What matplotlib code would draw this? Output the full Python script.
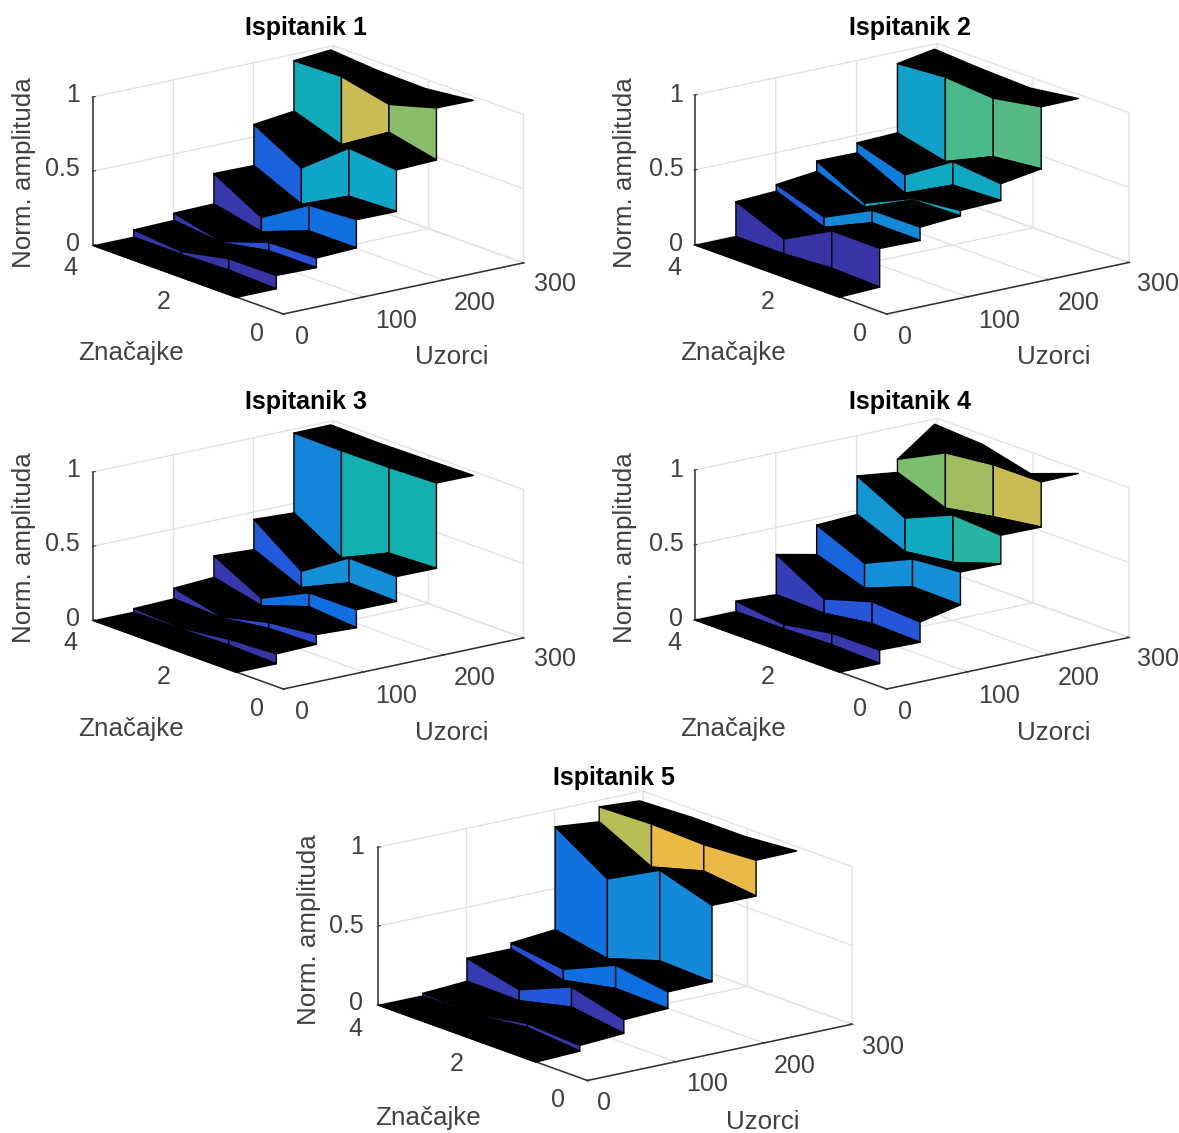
import matplotlib
matplotlib.use("Agg")
import matplotlib.pyplot as plt
from matplotlib.colors import LinearSegmentedColormap
from mpl_toolkits.mplot3d import proj3d
from mpl_toolkits.mplot3d.art3d import Poly3DCollection

W, H = 1179, 1133
plt.rcParams['font.family'] = ['Liberation Sans', 'DejaVu Sans']
plt.rcParams['grid.color'] = '#e2e2e2'
plt.rcParams['grid.linewidth'] = 1.0

# features, far side first
features = [4, 3, 2, 1]
step_samples = [50, 100, 150, 200, 250]
last_sample = 296
x_ticks = [0, 2, 4]
y_ticks = [0, 100, 200, 300]
z_ticks = [0, 0.5, 1]
x_tick_labels = ['0', '2', '4']
y_tick_labels = ['0', '100', '200', '300']
z_tick_labels = ['0', '0.5', '1']
titles = ['Ispitanik 1', 'Ispitanik 2', 'Ispitanik 3', 'Ispitanik 4', 'Ispitanik 5']

# height at the top of each step, one row per step
tops_1 = [[.05, .02, .087, .09], [.105, .03, .14, .15], [.315, .134, .333, .351],
          [.588, .41, .66, .629], [.96, .969, .897, .989]]
tops_2 = [[.233, .10, .27, .268], [.29, .188, .35, .353], [.39, .224, .371, .407],
          [.454, .356, .56, .528], [.926, .951, .926, .984]]
tops_3 = [[.025, .01, .05, .067], [.105, .03, .105, .14], [.266, .096, .248, .25],
          [.454, .22, .425, .416], [.978, .975, .978, .989]]
tops_4 = [[.07, .03, .087, .09], [.324, .143, .24, .22], [.463, .324, .468, .497],
          [.734, .568, .705, .685], [.787, .946, .982, .984]]
tops_5 = [[.017, .006, .065, .046], [.18, .10, .238, .15], [.217, .17, .316, .267],
          [.895, .684, .859, .756], [.962, .973, .962, .983]]

# height at the end of each plateau (first plateau starts at 0)
ends_1 = [[0, 0, .01, 0], [.056, .022, .083, .085], [.11, .038, .159, .161],
          [.311, .166, .336, .349], [.62, .51, .709, .638], [.98, .955, .95, .987]]
ends_2 = [[0, 0, .02, .01], [.246, .12, .266, .264], [.32, .197, .36, .371],
          [.387, .233, .403, .416], [.463, .387, .535, .57], [.969, .95, .94, .987]]
ends_3 = [[0, 0, .01, 0], [.033, .02, .065, .074], [.12, .045, .154, .128],
          [.25, .11, .257, .248], [.44, .253, .40, .414], [.98, .975, .98, .987]]
ends_4 = [[0, 0, .01, 0], [.056, .047, .094, .085], [.266, .157, .282, .277],
          [.476, .344, .387, .494], [.70, .577, .635, .682], [.969, .95, .87, .987]]
ends_5 = [[0, 0, .04, .01], [.034, .03, .11, .063], [.18, .10, .168, .162],
          [.242, .179, .284, .272], [.867, .70, .794, .756], [.945, .96, .96, .987]]

# colour value of the three wall pieces of each step
walls_1 = [[.02, .02, .02], [.03, .1, .1], [.03, .2, .2], [.16, .4, .4], [.45, .83, .72]]
walls_2 = [[.02, .02, .02], [.14, .28, .28], [.22, .42, .42], [.24, .42, .42], [.38, .62, .64]]
walls_3 = [[.02, .02, .02], [.03, .08, .08], [.03, .2, .2], [.14, .3, .3], [.27, .5, .5]]
walls_4 = [[.03, .03, .03], [.05, .12, .12], [.17, .3, .3], [.33, .43, .55], [.7, .76, .83]]
walls_5 = [[.02, .02, .02], [.04, .13, .03], [.1, .2, .2], [.21, .28, .28], [.8, .93, .92]]

all_tops = [tops_1, tops_2, tops_3, tops_4, tops_5]
all_ends = [ends_1, ends_2, ends_3, ends_4, ends_5]
all_walls = [walls_1, walls_2, walls_3, walls_4, walls_5]

# layout in image pixels: left corner, front corner of the box
left_corner = [(93.3, 246), (695, 246), (93.3, 621), (695, 621), (378.3, 1007.3)]
front_corner = [(283.3, 314), (886.7, 314), (283.3, 689), (886.7, 689), (587.5, 1080.5)]
box_z = [0.99, 0.99, 0.99, 0.99, 0.955]
title_pos = [(306, 28), (910, 28), (306, 402), (910, 402), (614, 778)]
xlabel_pos = [(131, 353), (733, 353), (131, 729), (733, 729), (428, 1118)]
ylabel_pos = [(452, 357), (1054, 357), (452, 733), (1054, 733), (763, 1122)]
zlabel_pos = [(24, 173), (625, 173), (24, 548), (625, 548), (309, 930)]

# tick label centres, pixels from the front corner
x_off = [(-26.6, 20), (-119.3, -12), (-212.6, -45.7)]
y_off = [(18.4, 23.3), (112.7, 6.7), (191.7, -10.7), (271.7, -29.7)]
z_off = [(-210.6, -70), (-220.6, -144.7), (-210.3, -219)]
x_off_5 = [(-29.2, 19.5), (-130.8, -16.2), (-232.5, -51.2)]
y_off_5 = [(16.5, 22.8), (119.8, 3.8), (207.5, -14.5), (295.8, -33.2)]
z_off_5 = [(-231.5, -77.2), (-241.5, -154.5), (-230.8, -233.8)]

parula = LinearSegmentedColormap.from_list('parula_like', [
    '#3a2f9a', '#2b4fd8', '#0f6fe0', '#1590d8', '#10a6c8', '#12b0b0',
    '#3cb890', '#7bbd6f', '#b9bd55', '#e8b94a', '#f5b93c'])

TXT = '#404040'
FS = 18
FS_LABEL = 18.7


def corner_px(ax, x, y, z):
    px, py, _ = proj3d.proj_transform(x, y, z, ax.get_proj())
    return ax.transData.transform((px, py))


def fit_box(ax, left, front):
    # move and scale the axes so the box corners land on the image pixels
    for _ in range(3):
        ax.apply_aspect()
        a = corner_px(ax, 4, 0, 0)
        b = corner_px(ax, 0, 0, 0)
        pos = ax.get_position()
        scale = (front[0] - left[0]) / (b[0] - a[0])
        ax.set_position([pos.x0, pos.y0, pos.width * scale, pos.height * scale])
        ax.apply_aspect()
        b = corner_px(ax, 0, 0, 0)
        pos = ax.get_position()
        dx = (front[0] - b[0]) / W
        dy = ((H - front[1]) - b[1]) / H
        ax.set_position([pos.x0 + dx, pos.y0 + dy, pos.width, pos.height])


def draw_stairs(ax, tops, ends, walls):
    # painter's order: far samples first, far features first
    order = 1
    for k in range(5, -1, -1):
        y0 = 0 if k == 0 else step_samples[k - 1]
        y1 = last_sample if k == 5 else step_samples[k]
        start = [0, 0, 0, 0] if k == 0 else tops[k - 1]
        for i in range(3):
            f0, f1 = features[i], features[i + 1]
            # plateau, black because the sample lines are so dense
            quad = [(f0, y0, start[i]), (f1, y0, start[i + 1]),
                    (f1, y1, ends[k][i + 1]), (f0, y1, ends[k][i])]
            tread = Poly3DCollection([quad], facecolors='black', edgecolors='black',
                                     linewidths=1.0, zorder=order)
            ax.add_collection3d(tread)
            order += 1
        if k == 0:
            continue
        for i in range(3):
            f0, f1 = features[i], features[i + 1]
            y = step_samples[k - 1]
            low = ends[k - 1]
            quad = [(f0, y, low[i]), (f1, y, low[i + 1]),
                    (f1, y, start[i + 1]), (f0, y, start[i])]
            wall = Poly3DCollection([quad], facecolors=parula(walls[k - 1][i]),
                                    edgecolors='black', linewidths=1.0, zorder=order)
            ax.add_collection3d(wall)
            order += 1


def put_text(pos, s, **kw):
    fig.text(pos[0] / W, 1 - pos[1] / H, s, ha='center', va='center', **kw)


fig = plt.figure(figsize=(W / 100, H / 100), dpi=100)

for n in range(5):
    ax = fig.add_axes([0.1, 0.1, 0.4, 0.4 * W / H], projection='3d', proj_type='ortho',
                      computed_zorder=False)
    ax.patch.set_alpha(0)
    ax.set_box_aspect((2, 1.94, box_z[n]))
    ax.view_init(elev=16.1, azim=-37.5)
    ax.set_xlim(4, 0, view_margin=0)
    ax.set_ylim(0, 300, view_margin=0)
    ax.set_zlim(0, 1, view_margin=0)

    draw_stairs(ax, all_tops[n], all_ends[n], all_walls[n])

    ax.set_xticks(x_ticks, [''] * 3)
    ax.set_yticks(y_ticks, [''] * 4)
    ax.set_zticks(z_ticks, [''] * 3)
    ax.zaxis.set_ticks_position('lower')
    ax.tick_params(colors=TXT)
    for axis in (ax.xaxis, ax.yaxis, ax.zaxis):
        axis.set_pane_color((1, 1, 1, 1))
        axis.pane.set_edgecolor('none')
        axis.line.set_color('#303030')
        axis.line.set_linewidth(1.1)
        axis._axinfo['tick']['inward_factor'] = 0.05
        axis._axinfo['tick']['outward_factor'] = 0.1

    fit_box(ax, left_corner[n], front_corner[n])

    fx, fy = front_corner[n]
    offs = (x_off_5, y_off_5, z_off_5) if n == 4 else (x_off, y_off, z_off)
    labs = (x_tick_labels, y_tick_labels, z_tick_labels)
    for off, lab in zip(offs, labs):
        for (dx, dy), s in zip(off, lab):
            put_text((fx + dx, fy + dy), s, fontsize=FS, color=TXT)

    put_text(title_pos[n], titles[n], fontsize=FS, fontweight='bold', color='black')
    put_text(xlabel_pos[n], 'Značajke', fontsize=FS_LABEL, color=TXT)
    put_text(ylabel_pos[n], 'Uzorci', fontsize=FS_LABEL, color=TXT)
    put_text(zlabel_pos[n], 'Norm. amplituda', fontsize=FS_LABEL, color=TXT, rotation=90)

fig.savefig('out.png', dpi=100)
